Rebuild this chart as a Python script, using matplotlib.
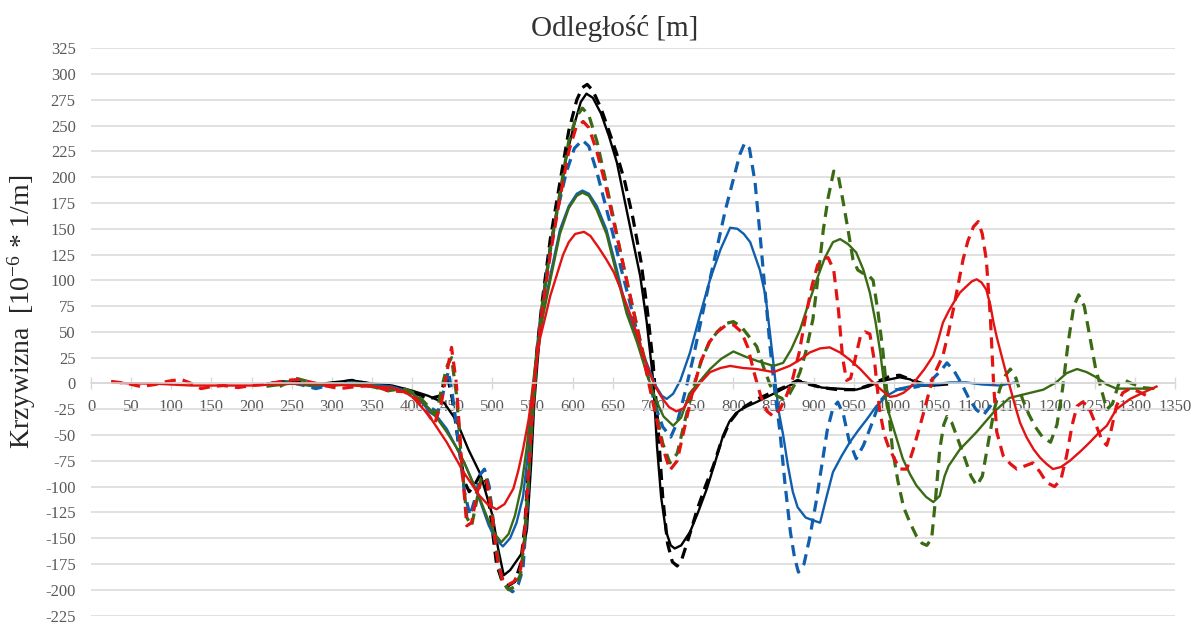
import matplotlib
matplotlib.use("Agg")
import matplotlib.pyplot as plt

plt.rcParams.update({
    "font.family": ["Liberation Serif", "DejaVu Serif"],
    "mathtext.fontset": "custom",
    "mathtext.rm": "Liberation Serif",
    "mathtext.it": "Liberation Serif:italic",
    "axes.unicode_minus": False,
})

# distance [m] / curvature [1e-6 1/m]
black_solid_x = [220, 240, 260, 280, 300, 325, 350, 375, 400, 420, 440, 455, 470, 485, 500, 507, 514, 522, 530, 538, 543, 548, 552, 556, 563, 572, 584, 592, 601, 610, 617, 625, 635, 645, 655, 665, 675, 684, 692, 700, 705, 710, 716, 722, 727, 735, 746, 756, 767, 777, 787, 795, 803, 812, 829, 850, 865, 880, 895, 910, 930, 953, 968, 983, 995, 1007, 1020, 1035, 1050, 1066]
black_solid_y = [0, 2, 1, -1, 1, 3, 0, -2, -7, -12, -19, -36, -64, -88, -128, -160, -186, -181, -172, -163, -141, -80, -20, 20, 81, 135, 181, 220, 249, 273, 281, 277, 262, 240, 214, 176, 138, 104, 60, 4, -62, -110, -143, -157, -160, -157, -144, -125, -102, -77, -51, -37, -29, -24, -18, -10, -4, 2, 0, -4, -5, -6, -3, 2, 4, 6, 4, -2, -2, -1]

black_dash_x = [225, 250, 280, 300, 325, 350, 375, 400, 420, 435, 443, 450, 458, 465, 471, 478, 485, 492, 498, 505, 512, 520, 528, 535, 540, 545, 550, 555, 562, 572, 584, 595, 605, 612, 618, 625, 635, 645, 655, 665, 675, 685, 693, 700, 706, 712, 718, 724, 730, 736, 745, 755, 765, 775, 785, 795, 805, 815, 830, 850, 865, 880, 895, 910, 930, 953, 968, 983, 995, 1007, 1020, 1035, 1050]
black_dash_y = [0, 3, -3, 0, 3, -1, -3, -8, -15, -12, 10, -15, -60, -95, -105, -98, -88, -95, -130, -175, -192, -196, -192, -175, -140, -80, -20, 30, 80, 140, 195, 245, 275, 287, 290, 284, 267, 245, 222, 195, 160, 118, 70, 20, -40, -110, -155, -173, -177, -170, -148, -122, -100, -80, -56, -38, -28, -22, -15, -8, -3, 3, -1, -4, -6, -6, -2, 3, 7, 8, 4, 0, -1]

blue_solid_x = [220, 250, 280, 300, 325, 350, 375, 400, 412, 422, 432, 443, 455, 465, 475, 485, 495, 503, 513, 522, 530, 538, 545, 551, 556, 563, 572, 584, 595, 605, 612, 620, 630, 642, 655, 667, 680, 692, 703, 711, 717, 725, 734, 746, 758, 771, 784, 796, 805, 813, 821, 833, 840, 846, 851, 856, 862, 868, 874, 880, 890, 900, 908, 916, 924, 935, 945, 956, 966, 978, 991, 1007, 1025, 1049, 1070, 1090, 1110, 1132, 1151]
blue_solid_y = [0, 0, -3, -1, 0, -1, -3, -9, -18, -28, -33, -44, -62, -77, -95, -115, -137, -150, -158, -150, -135, -110, -62, -5, 30, 68, 105, 149, 172, 184, 187, 184, 172, 149, 110, 71, 45, 20, -2, -12, -15, -10, 3, 30, 65, 101, 130, 151, 150, 145, 137, 110, 85, 46, 12, -25, -50, -80, -105, -120, -130, -133, -135, -110, -86, -70, -57, -45, -35, -22, -12, -5, -2, -1, 1, 1, -1, -2, 1]

blue_dash_x = [230, 250, 280, 300, 325, 350, 375, 400, 420, 432, 440, 445, 450, 458, 465, 472, 479, 485, 490, 496, 503, 510, 518, 525, 532, 538, 544, 549, 554, 560, 570, 580, 592, 602, 612, 620, 630, 640, 650, 660, 670, 680, 692, 703, 712, 722, 730, 740, 750, 760, 770, 780, 790, 800, 808, 814, 820, 827, 833, 840, 846, 852, 858, 864, 871, 876, 881, 888, 895, 903, 910, 917, 924, 930, 937, 944, 953, 962, 972, 982, 992, 1003, 1015, 1030, 1045, 1058, 1066, 1075, 1084, 1093, 1102, 1111, 1120, 1127]
blue_dash_y = [0, 1, -5, -1, 1, -2, -4, -10, -22, -28, -5, 12, -10, -60, -105, -128, -110, -88, -83, -100, -150, -185, -198, -202, -195, -180, -110, -40, 20, 65, 120, 165, 205, 228, 236, 230, 205, 175, 145, 112, 82, 50, 12, -22, -42, -52, -38, -8, 25, 62, 98, 133, 168, 198, 222, 233, 228, 195, 146, 85, 33, -10, -47, -95, -144, -168, -183, -175, -150, -115, -80, -45, -24, -18, -30, -55, -73, -60, -40, -18, -9, -6, -5, -3, 2, 12, 20, 12, 0, -14, -25, -31, -22, -14]

green_solid_x = [220, 250, 280, 300, 325, 350, 375, 400, 412, 422, 432, 443, 455, 465, 475, 485, 495, 503, 511, 520, 528, 536, 543, 549, 555, 562, 572, 584, 595, 605, 612, 620, 630, 642, 655, 667, 680, 692, 703, 713, 725, 735, 745, 758, 771, 785, 800, 815, 829, 850, 862, 872, 883, 893, 904, 914, 924, 933, 943, 953, 962, 970, 977, 983, 991, 1000, 1011, 1020, 1028, 1040, 1049, 1057, 1063, 1068, 1082, 1103, 1124, 1144, 1165, 1186, 1202, 1215, 1228, 1240, 1252, 1265, 1277, 1300, 1323]
green_solid_y = [-3, 0, -2, 0, -1, -2, -5, -10, -17, -25, -35, -47, -62, -77, -95, -113, -133, -146, -154, -146, -128, -100, -60, -10, 30, 62, 100, 145, 170, 182, 185, 182, 168, 145, 105, 68, 40, 10, -15, -32, -41, -33, -10, 2, 14, 24, 31, 26, 22, 17, 20, 33, 52, 76, 101, 122, 137, 140, 135, 127, 110, 88, 60, 30, -22, -45, -73, -88, -99, -110, -115, -109, -90, -80, -64, -47, -28, -14, -10, -6, 1, 10, 14, 11, 6, -1, -5, -5, -5]

green_dash_x = [235, 255, 280, 300, 325, 350, 370, 390, 405, 420, 430, 438, 444, 449, 455, 461, 468, 474, 480, 486, 492, 498, 505, 512, 520, 528, 535, 540, 545, 550, 555, 562, 572, 584, 595, 604, 612, 620, 630, 640, 650, 660, 670, 680, 692, 703, 712, 721, 730, 740, 750, 760, 770, 780, 790, 800, 810, 820, 829, 838, 846, 854, 862, 870, 877, 883, 890, 899, 905, 912, 918, 925, 931, 937, 943, 949, 955, 961, 967, 974, 980, 986, 992, 998, 1005, 1012, 1020, 1028, 1035, 1041, 1047, 1052, 1057, 1062, 1066, 1072, 1080, 1088, 1096, 1103, 1110, 1118, 1125, 1132, 1139, 1145, 1152, 1160, 1168, 1176, 1185, 1195, 1203, 1210, 1217, 1224, 1230, 1237, 1244, 1251, 1258, 1265, 1272, 1280, 1288, 1296, 1310, 1323]
green_dash_y = [-3, 5, 0, -2, 0, -3, -7, -5, -10, -22, -30, 0, 18, 25, -10, -70, -130, -138, -115, -92, -90, -115, -160, -192, -200, -197, -185, -150, -90, -30, 25, 75, 130, 185, 235, 258, 267, 260, 235, 200, 163, 125, 90, 55, 15, -25, -58, -77, -68, -35, -5, 22, 40, 50, 58, 60, 55, 45, 36, 15, -2, -12, -15, -10, 0, 11, 30, 62, 100, 149, 180, 206, 200, 175, 148, 120, 110, 107, 106, 100, 70, 33, -15, -63, -95, -120, -135, -148, -155, -157, -150, -110, -64, -40, -32, -38, -55, -72, -90, -99, -90, -55, -25, -5, 8, 14, 5, -15, -30, -42, -52, -57, -40, -5, 40, 75, 86, 75, 45, 15, -5, -25, -20, 0, 3, 0, -4, -5]

red_solid_x = [27, 50, 75, 100, 125, 150, 175, 200, 225, 250, 275, 300, 325, 350, 375, 390, 400, 420, 443, 464, 484, 495, 505, 515, 526, 532, 538, 545, 551, 559, 565, 572, 580, 588, 595, 603, 614, 622, 632, 642, 651, 662, 672, 682, 692, 702, 712, 720, 729, 738, 746, 758, 771, 784, 796, 812, 829, 850, 870, 883, 895, 908, 920, 933, 945, 958, 970, 978, 987, 995, 1003, 1012, 1020, 1028, 1038, 1049, 1055, 1061, 1068, 1074, 1082, 1090, 1097, 1103, 1109, 1115, 1120, 1124, 1128, 1132, 1138, 1145, 1151, 1157, 1165, 1174, 1182, 1190, 1198, 1208, 1219, 1232, 1244, 1255, 1265, 1277, 1294, 1310, 1327]
red_solid_y = [1, 0, 0, -1, -2, -2, -2, -2, -1, 0, 0, -1, -2, -3, -4, -8, -13, -30, -57, -86, -109, -118, -122, -117, -102, -85, -64, -35, -2, 43, 62, 85, 105, 125, 137, 145, 147, 143, 132, 120, 108, 87, 66, 43, 18, -2, -15, -23, -27, -24, -13, 0, 11, 15, 17, 15, 14, 11, 17, 23, 30, 34, 35, 30, 23, 14, 4, -2, -8, -13, -12, -9, -4, 4, 14, 27, 42, 59, 70, 78, 88, 94, 99, 101, 98, 91, 76, 59, 45, 33, 15, -5, -22, -38, -52, -64, -72, -78, -83, -81, -75, -66, -57, -48, -41, -25, -15, -9, -3]

red_dash_x = [25, 45, 62, 80, 95, 112, 125, 137, 150, 165, 183, 200, 215, 230, 245, 260, 275, 290, 310, 330, 350, 370, 390, 405, 418, 428, 436, 443, 449, 455, 461, 468, 474, 481, 487, 493, 499, 506, 513, 520, 527, 535, 540, 545, 550, 555, 562, 572, 584, 595, 604, 613, 620, 630, 640, 650, 660, 670, 680, 692, 703, 712, 721, 730, 740, 750, 760, 770, 780, 790, 800, 810, 818, 826, 834, 842, 850, 858, 866, 874, 882, 890, 898, 905, 912, 918, 925, 931, 936, 941, 946, 952, 958, 964, 970, 976, 982, 988, 994, 1000, 1007, 1016, 1024, 1036, 1049, 1061, 1068, 1074, 1080, 1086, 1092, 1099, 1105, 1110, 1115, 1120, 1124, 1128, 1136, 1145, 1153, 1163, 1173, 1182, 1190, 1200, 1208, 1215, 1222, 1228, 1235, 1242, 1252, 1259, 1265, 1270, 1277, 1285, 1294, 1305, 1315]
red_dash_y = [2, 0, -3, -1, 2, 4, 0, -5, -3, -2, -4, -2, -1, 1, 3, 4, 1, -2, -5, -3, -2, -7, -8, -15, -28, -39, -20, 10, 35, 0, -70, -138, -135, -105, -93, -95, -125, -170, -192, -195, -192, -180, -145, -85, -25, 25, 72, 125, 180, 225, 248, 254, 248, 225, 195, 160, 125, 90, 55, 10, -30, -62, -84, -75, -40, -5, 22, 40, 50, 56, 57, 50, 35, 10, -12, -27, -32, -25, -12, 5, 30, 65, 95, 115, 121, 122, 110, 70, 25, 3, 5, 25, 45, 50, 48, 20, -25, -50, -63, -72, -83, -83, -64, -31, 7, 27, 50, 72, 96, 120, 138, 152, 157, 145, 120, 65, 1, -47, -70, -78, -83, -80, -77, -86, -96, -100, -93, -70, -40, -22, -18, -22, -41, -55, -60, -47, -22, -9, -5, -8, -12]

x_ticks = list(range(0, 1351, 50))
y_ticks = list(range(-225, 326, 25))

blue = "#0f5fae"
green = "#3a6b14"
red = "#e31313"

fig = plt.figure(figsize=(11.96, 6.24), dpi=100)
ax = fig.add_axes([91 / 1196, 8.5 / 624, 1084 / 1196, 567.2 / 624])

solid_lw = 1.7
dash_lw = 2.3
dash = (3.5, 2.2)

ax.plot(black_solid_x, black_solid_y, color="black", lw=solid_lw)
ax.plot(black_dash_x, black_dash_y, color="black", lw=dash_lw, dashes=dash)
ax.plot(blue_solid_x, blue_solid_y, color=blue, lw=solid_lw)
ax.plot(blue_dash_x, blue_dash_y, color=blue, lw=dash_lw, dashes=dash)
ax.plot(green_solid_x, green_solid_y, color=green, lw=solid_lw)
ax.plot(green_dash_x, green_dash_y, color=green, lw=dash_lw, dashes=dash)
ax.plot(red_solid_x, red_solid_y, color=red, lw=solid_lw)
ax.plot(red_dash_x, red_dash_y, color=red, lw=dash_lw, dashes=dash)

ax.set_xlim(0, 1350)
ax.set_ylim(-225, 325)
ax.set_xticks(x_ticks)
ax.set_yticks(y_ticks)
ax.set_axisbelow(True)
ax.yaxis.grid(True, color="#d9d9d9", lw=1.1)

for s in ["top", "right", "left"]:
    ax.spines[s].set_visible(False)
ax.spines["bottom"].set_position(("data", 0))
ax.spines["bottom"].set_color("#d9d9d9")
ax.spines["bottom"].set_linewidth(1.1)

ax.tick_params(axis="x", direction="inout", length=8, width=1, color="#d9d9d9",
               labelsize=12, labelcolor="#595959", pad=7)
ax.tick_params(axis="y", length=0, labelsize=12, labelcolor="#595959", pad=11)

fig.text(615 / 1196, 1 - 28 / 624, "Odległość [m]", ha="center", va="center",
         fontsize=21, color="#333333")
fig.text(22 / 1196, 1 - 312 / 624, r"Krzywizna  [10$^{\mathrm{-6}}$ * 1/m]", ha="center",
         va="center", rotation=90, fontsize=20, color="#262626")

fig.savefig("out.png", dpi=100)
